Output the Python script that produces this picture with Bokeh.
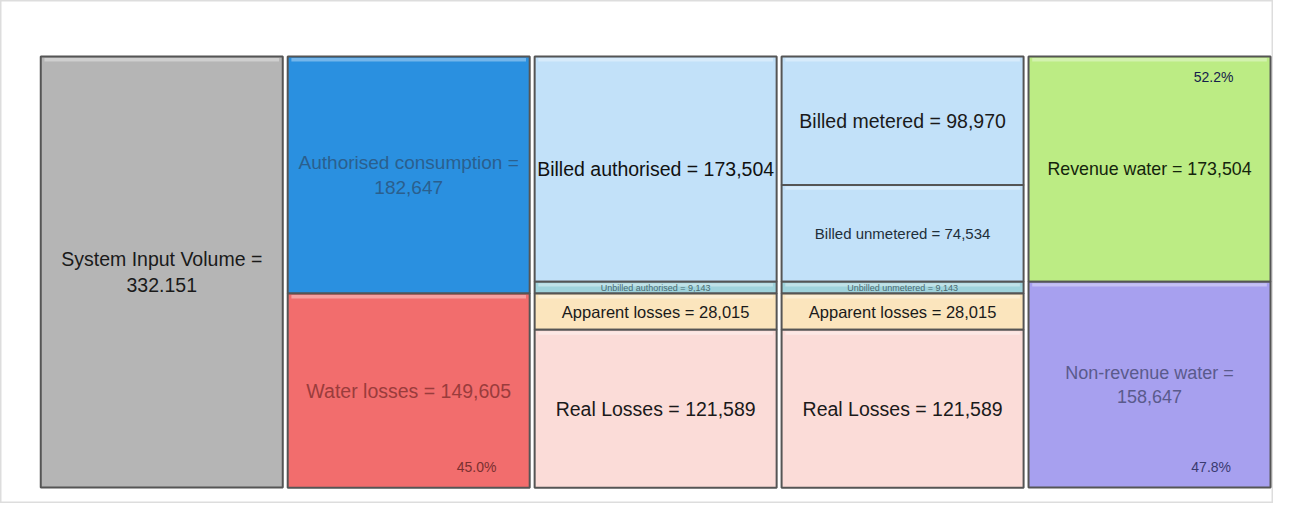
from bokeh.plotting import figure
from bokeh.models import ColumnDataSource, Range1d
from bokeh.core.properties import value
from bokeh.embed import file_html
from bokeh.resources import INLINE

# ---- data ----
col1_labels = ["System Input Volume =\n332.151"]
col1_values = [332151]
col2_labels = ["Authorised consumption =\n182,647", "Water losses = 149,605"]
col2_values = [182647, 149605]
col3_labels = ["Billed authorised = 173,504", "Unbilled authorised = 9,143",
               "Apparent losses = 28,015", "Real Losses = 121,589"]
col3_values = [173504, 9143, 28015, 121589]
col4_labels = ["Billed metered = 98,970", "Billed unmetered = 74,534",
               "Unbilled unmetered = 9,143", "Apparent losses = 28,015",
               "Real Losses = 121,589"]
col4_values = [98970, 74534, 9143, 28015, 121589]
col5_labels = ["Revenue water = 173,504", "Non-revenue water =\n158,647"]
col5_values = [173504, 158647]
percent_labels = ["45.0%", "52.2%", "47.8%"]

columns = [(col1_labels, col1_values), (col2_labels, col2_values),
           (col3_labels, col3_values), (col4_labels, col4_values),
           (col5_labels, col5_values)]

# ---- styles ----
fills = [["#b5b5b5"],
         ["#2a90e0", "#f26d6d"],
         ["#c2e1f9", "#9fd3dc", "#fbe5bd", "#fbdcd8"],
         ["#c2e1f9", "#c2e1f9", "#9fd3dc", "#fbe5bd", "#fbdcd8"],
         ["#bcec84", "#a7a0ef"]]
text_colors = [["#1a1a1a"],
               ["#2a5f8e", "#9a3c3c"],
               ["#111111", "#4a6a70", "#1a1a1a", "#1a1a1a"],
               ["#1a1a1a", "#1f2f3a", "#4a6a70", "#1a1a1a", "#1a1a1a"],
               ["#14240c", "#5a5a8c"]]
text_sizes = [["19.5px"],
              ["19px", "19.5px"],
              ["19.5px", "9px", "16.5px", "19.5px"],
              ["19.5px", "15px", "9px", "16.5px", "19.5px"],
              ["17.8px", "18px"]]

total = col1_values[0]
W, H = 1273, 503
p = figure(width=W, height=H, output_backend="svg", toolbar_location=None,
           min_border=0, x_range=Range1d(-0.153, 5.002),
           y_range=Range1d(-12330, total + 43150))
p.axis.visible = False
p.grid.visible = False
p.outline_line_color = "#dddddd"
p.outline_line_width = 2
p.background_fill_color = "white"

q = dict(left=[], right=[], top=[], bottom=[], fill=[])
t = dict(x=[], y=[], text=[], color=[], size=[])
for ci, (labels, vals) in enumerate(columns):
    top = total
    for si, (lab, v) in enumerate(zip(labels, vals)):
        bottom = top - v
        q["left"].append(ci + 0.01)
        q["right"].append(ci + 0.99)
        q["top"].append(top)
        q["bottom"].append(bottom)
        q["fill"].append(fills[ci][si])
        t["x"].append(ci + 0.5)
        t["y"].append((top + bottom) / 2)
        t["text"].append(lab)
        t["color"].append(text_colors[ci][si])
        t["size"].append(text_sizes[ci][si])
        top = bottom

qs = ColumnDataSource(q)
p.quad(left="left", right="right", top="top", bottom="bottom", source=qs,
       fill_color="fill", line_color="#555555", line_width=2)
# subtle top highlight (bevel)
hl = ColumnDataSource(dict(left=[l + 0.015 for l in q["left"]],
                           right=[r - 0.015 for r in q["right"]],
                           top=[tp - 1200 for tp in q["top"]],
                           bottom=[tp - 3800 for tp in q["top"]]))
p.quad(left="left", right="right", top="top", bottom="bottom", source=hl,
       fill_color="white", fill_alpha=0.35, line_color=None)

ts = ColumnDataSource(t)
p.text(x="x", y="y", text="text", source=ts, text_color="color",
       text_font_size="size", text_align="center", text_baseline="middle",
       text_font=value("Liberation Sans"), text_line_height=1.2)

# percent labels
px = [1.855, 4.84, 4.83]
py = [total - col2_values[0] - col2_values[1] + 16000,
      total - 16000,
      total - col5_values[0] - col5_values[1] + 16000]
ps = ColumnDataSource(dict(x=px, y=py, text=percent_labels,
                           color=["#7a3030", "#14204a", "#3a3a70"]))
p.text(x="x", y="y", text="text", source=ps, text_color="color",
       text_font_size="14px", text_align="right", text_baseline="middle",
       text_font=value("Liberation Sans"))

open("out.html", "w").write(file_html(p, INLINE))
